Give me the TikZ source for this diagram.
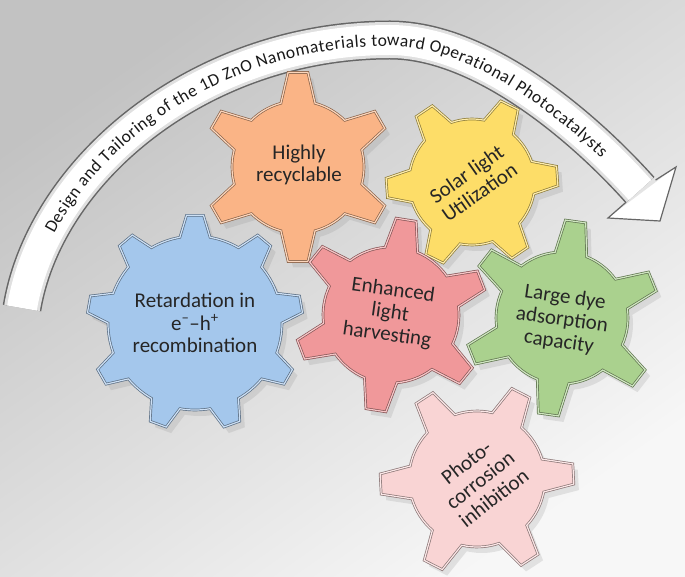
\documentclass[tikz,border=0pt]{standalone}
\usepackage{fontspec}
\setmainfont{Carlito}
\usepackage{tikz}
\usepackage{xcolor}
\usetikzlibrary{calc, decorations.text, shadows}
\definecolor{bluegear}{RGB}{164,199,236}
\definecolor{orangegear}{RGB}{250,180,134}
\definecolor{yellowgear}{RGB}{253,221,104}
\definecolor{redgear}{RGB}{240,152,154}
\definecolor{greengear}{RGB}{170,209,142}
\definecolor{pinkgear}{RGB}{249,212,212}
\tikzstyle{gearbody} = [line width=0.7pt, double distance=1.2pt, drop shadow={shadow xshift=5pt, shadow yshift=-6pt, opacity=0.18}]
\tikzstyle{gearlabel} = [align=center, text=black!85, inner sep=0pt, font=\fontsize{21}{22.5}\selectfont]
\tikzstyle{bandedge} = [draw=black!60, line width=1.2pt, line join=miter]
\tikzset{gearcol/.style={fill=#1, draw=#1!55!black, double=#1!55!white}}

% gear: center, root radius, tip radius, teeth, first tooth angle, root half angle, tip half angle, colour
\newcommand{\gear}[8]{%
  \draw[gearbody, gearcol=#8, shift={#1}] ({#5-#6}:#2)
    \foreach \k in {1,...,#4}{
      -- ({#5+(\k-1)*360/#4-#7}:#3) -- ({#5+(\k-1)*360/#4+#7}:#3)
      -- ({#5+(\k-1)*360/#4+#6}:#2)
      arc[start angle={#5+(\k-1)*360/#4+#6}, delta angle={360/#4-2*#6}, radius=#2]
    } -- cycle;}

\begin{document}
\begin{tikzpicture}[x=1pt, y=1pt]
    % background
    \shade[top color=black!24, bottom color=black!3, shading angle=35] (0,0) rectangle (685,576);
    \useasboundingbox (0,0) rectangle (685,576);

    % curved arrow
    \coordinate (bandstart) at (22,268);
    \coordinate (bandtop) at (390,536);
    \coordinate (bandend) at (640,386);
    \coordinate (headout) at (676,409);
    \coordinate (headtip) at (660,355);
    \coordinate (headin) at (608,358);

    \draw[line width=39pt, draw=black!60] (bandstart) .. controls (45,406) and (200,536) .. (bandtop) .. controls (480,536) and (580,453) .. (bandend);
    \fill[white] (headout) -- (headtip) -- (headin) -- cycle;
    \draw[bandedge] ($(bandend)!18.5pt!(headout)$) -- (headout) -- (headtip) -- (headin) -- ($(bandend)!18.5pt!(headin)$);
    \draw[line width=36pt, draw=black!12] (bandstart) .. controls (45,406) and (200,536) .. (bandtop) .. controls (480,536) and (580,453) .. (bandend);
    \draw[line width=30pt, draw=white] (bandstart) .. controls (45,406) and (200,536) .. (bandtop) .. controls (480,536) and (580,453) .. (bandend);
    \path[decorate, decoration={text along path, text align={fit to path, left indent=82pt, right indent=50pt}, raise=-6pt, text color=black!90,
        text={|\fontsize{17.5}{17.5}\selectfont|Design and Tailoring of the 1D ZnO Nanomaterials toward Operational Photocatalysts}}]
        (bandstart) .. controls (45,406) and (200,536) .. (bandtop) .. controls (480,536) and (580,453) .. (bandend);

    % gears
    \gear{(195,253)}{87}{108}{9}{10}{10}{4.5}{bluegear}
    \gear{(298,409)}{66}{95}{6}{30}{15}{6}{orangegear}
    \gear{(472,394)}{63}{86}{6}{4}{15}{6.5}{yellowgear}
    \gear{(391,261)}{68}{97}{6}{21}{14}{6}{redgear}
    \gear{(562,258)}{66}{98}{6}{22}{14}{6}{greengear}
    \gear{(477,97)}{68}{97}{6}{3}{14}{6}{pinkgear}

    % labels
    \node[gearlabel] (retard) at (195,253) {Retardation in\\e\textsuperscript{–}–h\textsuperscript{+}\\recombination};
    \node[gearlabel] (recycle) at (299,411) {Highly\\recyclable};
    \node[gearlabel, rotate=35] (solar) at (473,393) {Solar light\\Utilization};
    \node[gearlabel, rotate=-8] (harvest) at (390,263) {Enhanced\\light\\harvesting};
    \node[gearlabel, rotate=-8] (dye) at (562,256) {Large dye\\adsorption\\capacity};
    \node[gearlabel, rotate=38] (corrosion) at (480,96) {Photo-\\corrosion\\inhibition};
\end{tikzpicture}
\end{document}
